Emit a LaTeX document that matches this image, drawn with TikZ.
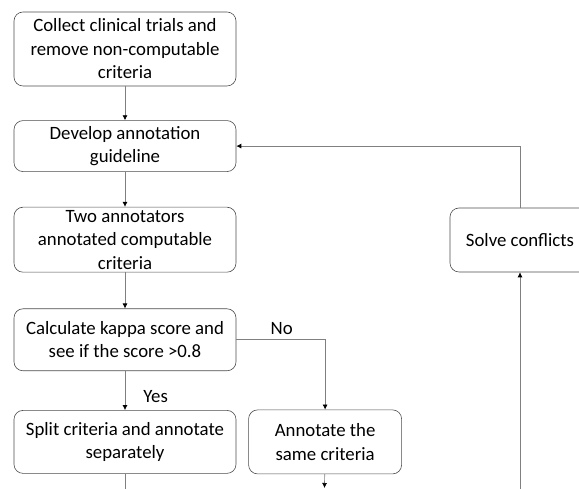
\documentclass[tikz,border=0pt]{standalone}
\usepackage{fontspec}
\setmainfont{Carlito}
\usetikzlibrary{arrows.meta,positioning}

\tikzset{
  box/.style={draw=black!70, line width=0.6pt, rounded corners=9pt, minimum width=222pt, align=center, inner sep=1pt, font=\fontsize{18.8}{23.5}\selectfont},
  line/.style={draw=black!50, line width=0.7pt},
  arrow/.style={line, -{Latex[length=5pt,width=5pt,color=black]}},
  lbl/.style={inner sep=0pt, font=\fontsize{18.8}{23.5}\selectfont}
}

\begin{document}
\begin{tikzpicture}[x=1pt,y=1pt]
  \useasboundingbox (0,0) rectangle (579,489);
  \node [box, minimum height=74pt] (collect) at (125,440) {Collect clinical trials and\\remove non-computable\\criteria};
  \node [box, minimum height=51pt, below = 34pt of collect] (guide) {Develop annotation\\guideline};
  \draw[arrow] (collect) -- (guide);
  \node [box, minimum height=65pt, inner sep=0pt, below = 35pt of guide] (annot) {Two annotators\\annotated computable\\criteria};
  \draw[arrow] (guide) -- (annot);
  \node [box, minimum height=62pt, below = 36pt of annot] (kappa) {Calculate kappa score and\\see if the score >0.8};
  \draw[arrow] (annot) -- (kappa);
  \node [box, minimum height=63pt, below = 39pt of kappa] (split) {Split criteria and annotate\\separately};
  \draw[arrow] (kappa) -- node[lbl, pos=0.64, right=18pt] {Yes} (split);
  \node [box, minimum width=153pt, minimum height=64pt, right = 12pt of split] (same) {Annotate the\\same criteria};
  \draw[arrow] (kappa.east) -| node[lbl, pos=0.256, above=5pt] {No} (same.north);
  \node [box, minimum width=140pt, minimum height=64pt] (solve) at (520,249) {Solve conflicts};
  \draw[arrow] (solve.north) |- (guide.east);
  % lines leaving the picture at the bottom
  \coordinate (splitout) at (125,0);
  \coordinate (sameout) at (324.5,1);
  \coordinate (solvein) at (520,0);
  \draw[line] (split) -- (splitout);
  \draw[arrow] (same) -- (sameout);
  \draw[arrow] (solvein) -- (solve);
\end{tikzpicture}
\end{document}
